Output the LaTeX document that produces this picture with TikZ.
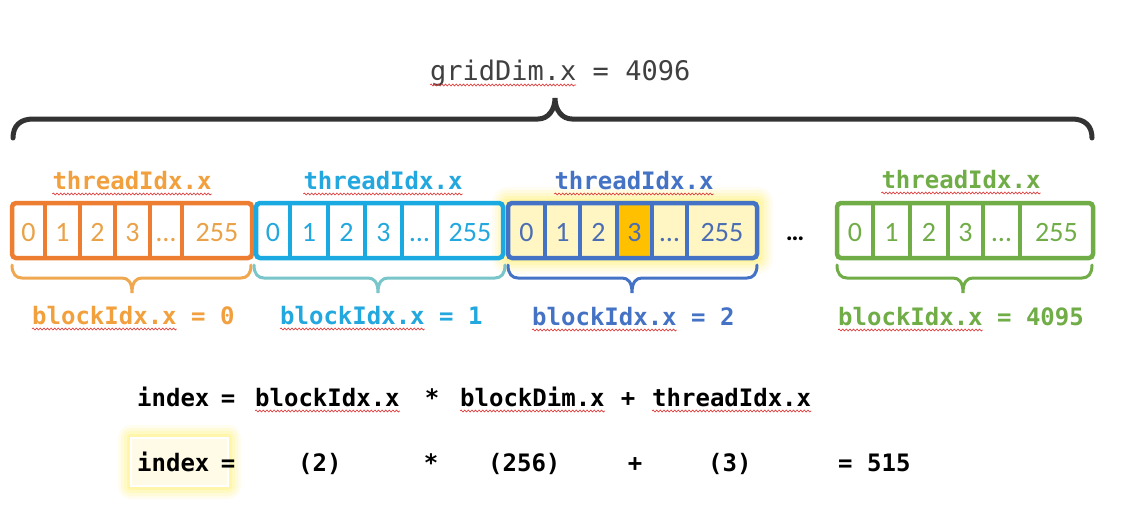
\documentclass[tikz,border=0pt]{standalone}
\usepackage{fontspec}
\newfontfamily\monofnt{DejaVu Sans Mono}
\newfontfamily\numfnt{Carlito}
\usetikzlibrary{decorations.pathmorphing}
\definecolor{orgbox}{HTML}{ED7D31}
\definecolor{orgtxt}{HTML}{F2A03D}
\definecolor{orgnum}{HTML}{E9A248}
\definecolor{orgbr}{HTML}{F0A850}
\definecolor{blubox}{HTML}{1BA9E1}
\definecolor{blutxt}{HTML}{22A7DE}
\definecolor{blubr}{HTML}{78C6CA}
\definecolor{dkb}{HTML}{4472C4}
\definecolor{dkbnum}{HTML}{4A6DB4}
\definecolor{grn}{HTML}{70AD47}
\definecolor{gold}{HTML}{FFC000}
\definecolor{lightyel}{HTML}{FFF6C4}
\definecolor{glowc}{HTML}{FFF27A}
\definecolor{bracec}{HTML}{333333}
\definecolor{gridtxt}{HTML}{404040}
\definecolor{squigc}{HTML}{E03030}
\newcommand\lowbrace[4]{% color, xa, xm, xb
  \draw[#1, line width=3pt, line cap=round]
    (#2,265) .. controls (#2,274) and (#2+4,278) .. (#2+10,278)
    -- (#3-10,278) .. controls (#3-4,278) and (#3,282) .. (#3,293)
    .. controls (#3,282) and (#3+4,278) .. (#3+10,278)
    -- (#4-10,278) .. controls (#4-4,278) and (#4,274) .. (#4,265);}
\begin{document}
\begin{tikzpicture}[x=1pt,y=-1pt,
  lbl/.style={font=\monofnt\bfseries\fontsize{24}{28}\selectfont, inner sep=0pt, anchor=base},
  lblw/.style={lbl, anchor=base west},
  num/.style={font=\numfnt\fontsize{28}{32}\selectfont, inner sep=0pt, anchor=base},
  cellline/.style={line width=4.5pt},
  squig/.style={draw=squigc, line width=0.6pt, decorate, decoration={snake, amplitude=1pt, segment length=3.6pt}}]
\useasboundingbox (0,0) rectangle (1129,504);
\fill[white] (0,0) rectangle (1129,504);

% glow around highlighted block
\foreach \d/\o in {16/0.10, 13/0.14, 10/0.18, 7/0.25, 4/0.35}
  \fill[glowc, opacity=\o, rounded corners=\d] (508-\d,203-\d) rectangle (757+\d,258+\d);
\fill[lightyel] (508,203) rectangle (757,258);
\fill[gold] (617,203) rectangle (652,258);

% glow around index
\foreach \d/\o in {13/0.12, 10/0.17, 7/0.22, 4/0.32}
  \fill[glowc, opacity=\o, rounded corners=\d] (131-\d,438-\d) rectangle (228+\d,486+\d);
\fill[white!60!lightyel] (131,438) rectangle (228,486);
\draw[white, line width=1.2pt] (131,438) rectangle (228,486);

% top brace
\draw[bracec, line width=5pt, line cap=round]
  (13,138) .. controls (13,126) and (20,119) .. (33,119) -- (538,119)
  .. controls (548,119) and (555,110) .. (555,98)
  .. controls (555,110) and (562,119) .. (572,119) -- (1072,119)
  .. controls (1085,119) and (1092,126) .. (1092,138);
\node[font=\monofnt\fontsize{27}{32}\selectfont, text=gridtxt, inner sep=0pt, anchor=base west] (grid) at (430,80) {gridDim.x = 4096};
\draw[squig] ([yshift=-5pt]grid.base west) -- ++(146,0);

% orange block
\draw[cellline, orgbox, rounded corners=4] (12,203) rectangle (252,258);
\foreach \x in {45,80,115,150,182} \draw[cellline, orgbox] (\x,203) -- (\x,258);
\foreach \c/\t [count=\i] in {28.5/0,62.5/1,97.5/2,132.5/3,166/…,217/255}
  \node[num, text=orgnum] (o\i) at (\c,241) {\t};
\node[lbl, text=orgtxt] (to) at (132,189) {threadIdx.x};
\draw[squig] ([yshift=-5pt]to.base west) -- ([yshift=-5pt]to.base east);
\lowbrace{orgbr}{12}{132}{251}
\node[lblw, text=orgtxt] (bo) at (32,324) {blockIdx.x = 0};
\draw[squig] ([yshift=-5pt]bo.base west) -- ++(144.5,0);

% blue block
\draw[cellline, blubox, rounded corners=4] (256,203) rectangle (503,258);
\foreach \x in {290,328,365,402,437} \draw[cellline, blubox] (\x,203) -- (\x,258);
\foreach \c/\t [count=\i] in {273/0,309/1,346.5/2,383.5/3,419.5/…,470/255}
  \node[num, text=blutxt] (b\i) at (\c,241) {\t};
\node[lbl, text=blutxt] (tb) at (383,189) {threadIdx.x};
\draw[squig] ([yshift=-5pt]tb.base west) -- ([yshift=-5pt]tb.base east);
\lowbrace{blubr}{254}{378}{505}
\node[lblw, text=blutxt] (bb) at (280,324) {blockIdx.x = 1};
\draw[squig] ([yshift=-5pt]bb.base west) -- ++(144.5,0);

% dark blue block
\draw[cellline, dkb, rounded corners=4] (508,203) rectangle (757,258);
\foreach \x in {545,580,617,652,687} \draw[cellline, dkb] (\x,203) -- (\x,258);
\foreach \c/\t [count=\i] in {526.5/0,562.5/1,598.5/2,634.5/3,669.5/…,722/255}
  \node[num, text=dkbnum] (d\i) at (\c,241) {\t};
\node[lbl, text=dkb] (td) at (634,189) {threadIdx.x};
\draw[squig] ([yshift=-5pt]td.base west) -- ([yshift=-5pt]td.base east);
\lowbrace{dkb}{508}{632}{757}
\node[lblw, text=dkb] (bd) at (532,325) {blockIdx.x = 2};
\draw[squig] ([yshift=-5pt]bd.base west) -- ++(144.5,0);

% dots
\node[num, font=\numfnt\bfseries\fontsize{26}{30}\selectfont, text=black] (dots) at (795,240) {…};

% green block
\draw[cellline, grn, rounded corners=4] (837,203) rectangle (1093,258);
\foreach \x in {873,910,948,983,1020} \draw[cellline, grn] (\x,203) -- (\x,258);
\foreach \c/\t [count=\i] in {855/0,891.5/1,929/2,965.5/3,1001.5/…,1056.5/255}
  \node[num, text=grn] (g\i) at (\c,241) {\t};
\node[lbl, text=grn] (tg) at (961,188) {threadIdx.x};
\draw[squig] ([yshift=-5pt]tg.base west) -- ([yshift=-5pt]tg.base east);
\lowbrace{grn}{837}{963}{1092}
\node[lblw, text=grn] (bg) at (838,325) {blockIdx.x = 4095};
\draw[squig] ([yshift=-5pt]bg.base west) -- ++(144.5,0);

% formula row 1
\node[lblw] (r1a) at (137,406) {index};
\node[lbl] (r1b) at (228,406) {=};
\node[lblw] (r1c) at (255,406) {blockIdx.x};
\node[lbl] (r1d) at (432,406) {*};
\node[lblw] (r1e) at (460,406) {blockDim.x};
\node[lbl] (r1f) at (628,406) {+};
\node[lblw] (r1g) at (652,406) {threadIdx.x};
\draw[squig] ([yshift=-5pt]r1c.base west) -- ([yshift=-5pt]r1c.base east);
\draw[squig] ([yshift=-5pt]r1e.base west) -- ([yshift=-5pt]r1e.base east);
\draw[squig] ([yshift=-5pt]r1g.base west) -- ([yshift=-5pt]r1g.base east);

% formula row 2
\node[lblw] (r2a) at (137,471) {index};
\node[lbl] (r2b) at (228,471) {=};
\node[lblw] (r2c) at (298,471) {(2)};
\node[lbl] (r2d) at (431,471) {*};
\node[lblw] (r2e) at (488,471) {(256)};
\node[lbl] (r2f) at (635,471) {+};
\node[lblw] (r2g) at (708,471) {(3)};
\node[lblw] (r2h) at (838,471) {= 515};
\end{tikzpicture}
\end{document}
